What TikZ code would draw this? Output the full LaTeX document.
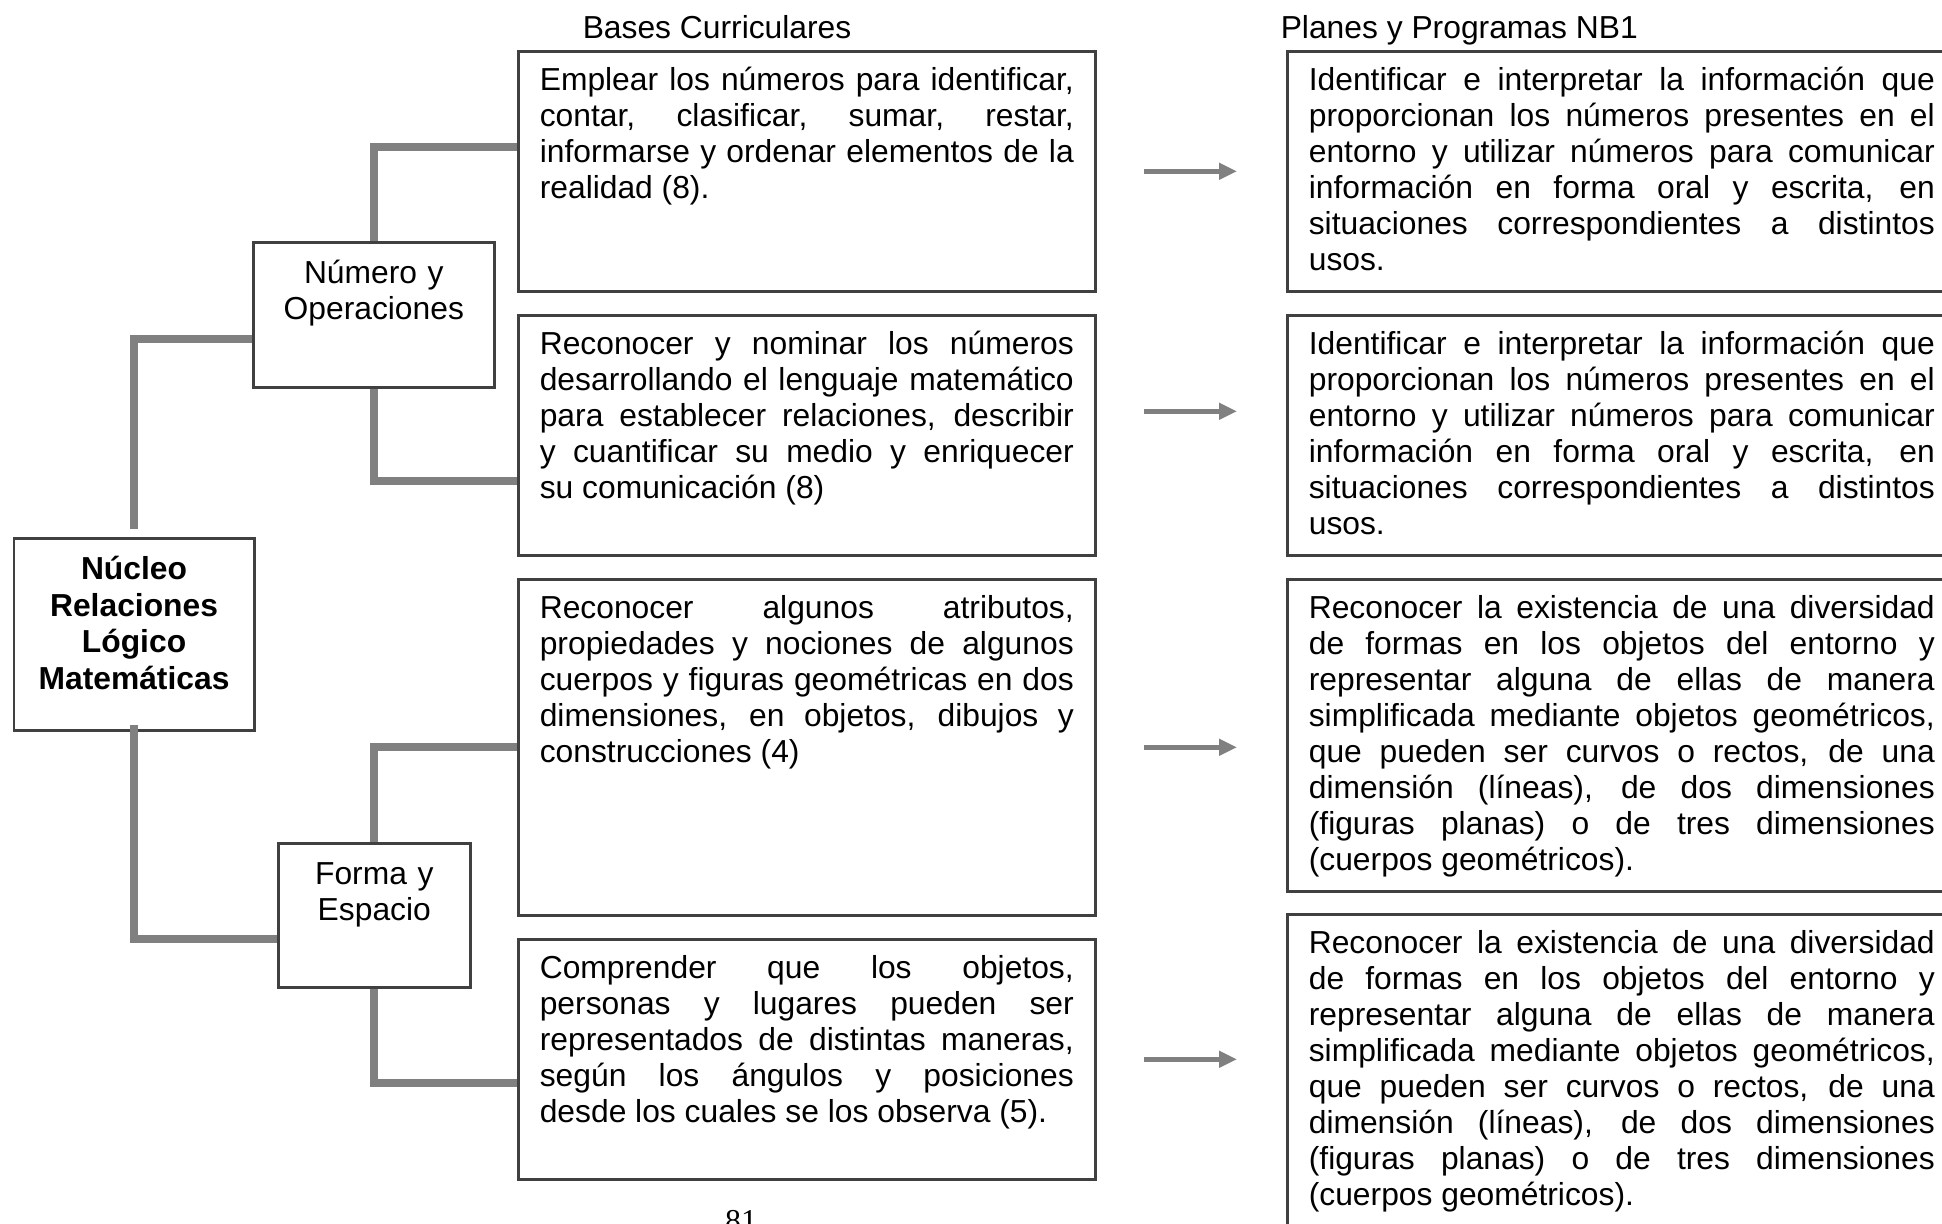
\documentclass[tikz,border=0pt]{standalone}
\usepackage{fontspec}
\setmainfont{Liberation Sans}
\newfontfamily\pagefont{Liberation Serif}
\usetikzlibrary{arrows.meta}
\tolerance=10000
\hbadness=10000

\definecolor{boxline}{RGB}{64,64,64}
\definecolor{linkgray}{RGB}{128,128,128}

\tikzset{every picture/.style={line width=0.75pt}}
\tikzset{
  txt/.style={font=\fontsize{15.9pt}{18pt}\selectfont, inner sep=0pt},
  bbox/.style={txt, draw=boxline, line width=1.3pt, anchor=north west,
    inner xsep=10.75pt, inner ysep=0pt, text height=19.6pt, align=justify},
  lbox/.style={bbox, text width=267pt},
  rbox/.style={bbox, text width=313pt},
  sbox/.style={bbox, align=center, inner xsep=0pt, text height=20.5pt},
  link/.style={draw=linkgray, line width=4pt},
  arr/.style={draw=linkgray, line width=2.7pt, -{Triangle[length=9pt,width=8pt]},
    shorten <=23.5pt, shorten >=24.5pt},
}

\begin{document}
\begin{tikzpicture}[x=0.5pt,y=0.5pt,yscale=-1,xscale=1]
    \useasboundingbox (0,0) rectangle (1942,1223);

    % Text Node
    \node[txt, anchor=base west] (hdrBases) at (582,38) {Bases Curriculares};
    % Text Node
    \node[txt, anchor=base west] (hdrPlanes) at (1280,38) {Planes y Programas NB1};

    %Shape: Rectangle [nucleo]
    \node[sbox, text width=120.25pt, text depth=75.5pt, font=\fontsize{15.9pt}{18.35pt}\selectfont\bfseries] (nuc) at (12.5,537) {Núcleo\\ Relaciones\\ Lógico\\ Matemáticas};
    %Shape: Rectangle [ejes]
    \node[sbox, text width=120.5pt, text depth=52pt] (numop) at (252,241) {Número y\\ Operaciones};
    \node[sbox, text width=96pt, text depth=51.5pt] (forma) at (277,842) {Forma y\\ Espacio};

    %Shape: Rectangle [bases curriculares]
    \node[lbox, text depth=100.4pt] (l1) at (517,50) {Emplear los números para identificar,\linebreak contar, clasificar, sumar, restar,\linebreak informarse y ordenar elementos de la\linebreak realidad (8).};
    \node[lbox, text depth=100.4pt] (l2) at (517,314) {Reconocer y nominar los números\linebreak desarrollando el lenguaje matemático\linebreak para establecer relaciones, describir\linebreak y cuantificar su medio y enriquecer\linebreak su comunicación (8)};
    \node[lbox, text depth=148.4pt] (l3) at (517,578) {Reconocer algunos atributos,\linebreak propiedades y nociones de algunos\linebreak cuerpos y figuras geométricas en dos\linebreak dimensiones, en objetos, dibujos y\linebreak construcciones (4)};
    \node[lbox, text depth=100.4pt] (l4) at (517,938) {Comprender que los objetos,\linebreak personas y lugares pueden ser\linebreak representados de distintas maneras,\linebreak según los ángulos y posiciones\linebreak desde los cuales se los observa (5).};

    %Shape: Rectangle [planes y programas]
    \node[rbox, text depth=100.4pt] (r1) at (1286,50) {Identificar e interpretar la información que\linebreak proporcionan los números presentes en el\linebreak entorno y utilizar números para comunicar\linebreak información en forma oral y escrita, en\linebreak situaciones correspondientes a distintos\linebreak usos.};
    \node[rbox, text depth=100.4pt] (r2) at (1286,314) {Identificar e interpretar la información que\linebreak proporcionan los números presentes en el\linebreak entorno y utilizar números para comunicar\linebreak información en forma oral y escrita, en\linebreak situaciones correspondientes a distintos\linebreak usos.};
    \node[rbox, text depth=136.4pt] (r3) at (1286,578) {Reconocer la existencia de una diversidad\linebreak de formas en los objetos del entorno y\linebreak representar alguna de ellas de manera\linebreak simplificada mediante objetos geométricos,\linebreak que pueden ser curvos o rectos, de una\linebreak dimensión (líneas), de dos dimensiones\linebreak (figuras planas) o de tres dimensiones\linebreak (cuerpos geométricos).};
    \node[rbox, text depth=150pt] (r4) at (1286,913) {Reconocer la existencia de una diversidad\linebreak de formas en los objetos del entorno y\linebreak representar alguna de ellas de manera\linebreak simplificada mediante objetos geométricos,\linebreak que pueden ser curvos o rectos, de una\linebreak dimensión (líneas), de dos dimensiones\linebreak (figuras planas) o de tres dimensiones\linebreak (cuerpos geométricos).};

    %Straight Lines [conectores]
    \draw[link] ([yshift=-4pt]nuc.north) |- ([yshift=12pt]numop.west);
    \draw[link] (numop.north) |- ([yshift=-12pt]l1.west);
    \draw[link] (numop.south) |- ([yshift=23pt]l2.west);
    \draw[link] ([yshift=-3.5pt]nuc.south) |- ([yshift=12pt]forma.west);
    \draw[link] (forma.north) |- (l3.west);
    \draw[link] (forma.south) |- ([yshift=12pt]l4.west);

    %Straight Lines [flechas]
    \draw[arr] (l1.east) -- (l1.east -| r1.west);
    \draw[arr] ([yshift=-12pt]l2.east) -- ([yshift=-12pt]l2.east -| r2.west);
    \draw[arr] (l3.east) -- (l3.east -| r3.west);
    \draw[arr] (l4.east) -- (l4.east -| r4.west);

    % Text Node
    \node[font=\pagefont\fontsize{15.9pt}{18pt}\selectfont, inner sep=0pt, anchor=base] (pagenum) at (741,1231) {81};

\end{tikzpicture}
\end{document}
